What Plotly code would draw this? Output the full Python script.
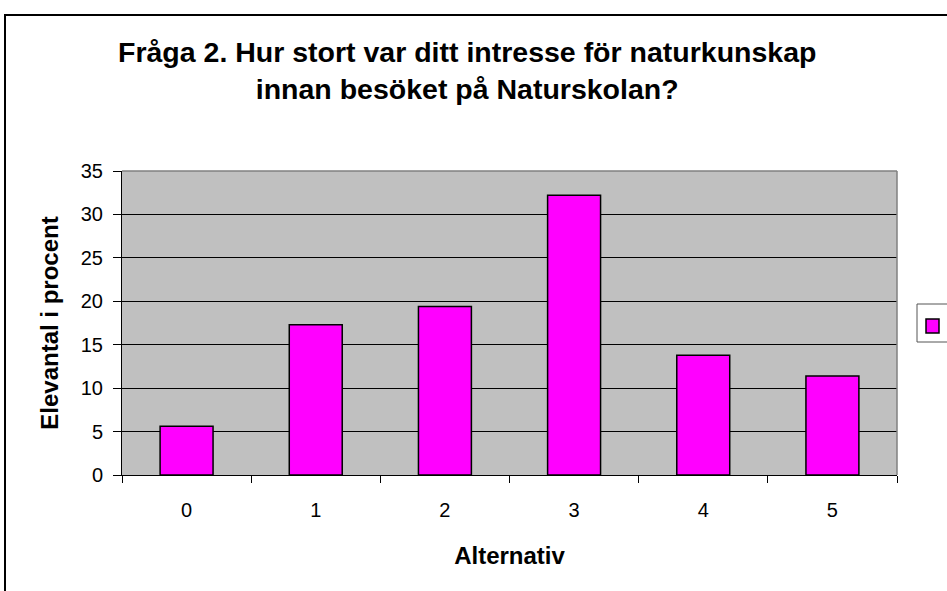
import plotly.graph_objects as go

categories = ["0", "1", "2", "3", "4", "5"]
values = [5.6, 17.3, 19.4, 32.2, 13.8, 11.4]
y_ticks = [0, 5, 10, 15, 20, 25, 30, 35]

W, H = 947, 591
L, R, T, B = 122, 897, 171, 475

def px(x):
    return (x - L) / (R - L)

def py(y):
    return (B - y) / (B - T)

fig = go.Figure()
fig.add_trace(go.Bar(
    x=categories, y=values,
    marker=dict(color="#FF00FF", line=dict(color="black", width=1.5)),
    showlegend=False, name=" "
))

font_family = "Liberation Sans, Arial, sans-serif"

fig.update_layout(
    width=W, height=H,
    margin=dict(l=L, r=W - R, t=T, b=H - B, pad=0),
    paper_bgcolor="white",
    plot_bgcolor="#C0C0C0",
    bargap=0.59,
    font=dict(family=font_family, color="black"),
    xaxis=dict(
        type="category",
        showgrid=False,
        showline=True, linecolor="black", linewidth=1,
        ticks="outside", tickson="boundaries", ticklen=7, tickcolor="black",
        tickfont=dict(size=20),
        ticklabelstandoff=17,
        title=dict(text="<b>Alternativ</b>", font=dict(size=24), standoff=27),
    ),
    yaxis=dict(
        range=[0, 35],
        tickvals=y_ticks,
        showgrid=True, gridcolor="black", gridwidth=1,
        showline=True, linecolor="black", linewidth=1,
        ticks="outside", ticklen=8, tickcolor="black",
        tickfont=dict(size=20),
        ticklabelstandoff=6,
        zeroline=False,
        title=dict(text="<b>Elevantal i procent</b>", font=dict(size=24), standoff=15),
    ),
)

shapes = [
    # outer chart frame
    dict(type="rect", xref="paper", yref="paper",
         x0=px(5), y0=py(15), x1=px(965), y1=py(620),
         line=dict(color="black", width=2), layer="below"),
    # plot-area top and right edges
    dict(type="line", xref="paper", yref="paper",
         x0=0, y0=1, x1=1, y1=1, line=dict(color="#808080", width=1.5)),
    dict(type="line", xref="paper", yref="paper",
         x0=1, y0=0, x1=1, y1=1, line=dict(color="#808080", width=1.5)),
    # legend box
    dict(type="rect", xref="paper", yref="paper",
         x0=px(917), y0=py(304), x1=px(965), y1=py(342),
         line=dict(color="#555555", width=1), fillcolor="white"),
    dict(type="rect", xref="paper", yref="paper",
         x0=px(926), y0=py(319), x1=px(939), y1=py(333),
         line=dict(color="black", width=1.5), fillcolor="#FF00FF"),
]
fig.update_layout(shapes=shapes)

fig.add_annotation(
    xref="paper", yref="paper", x=px(467), y=py(70),
    text="<b>Fråga 2. Hur stort var ditt intresse för naturkunskap<br>innan besöket på Naturskolan?</b>",
    showarrow=False, font=dict(size=28.5, family=font_family), align="center",
    xanchor="center", yanchor="middle",
)

fig.write_html(
    "out.html",
    config={"displayModeBar": False},
    post_script="document.body.style.margin='0';document.body.style.overflow='hidden';",
)
